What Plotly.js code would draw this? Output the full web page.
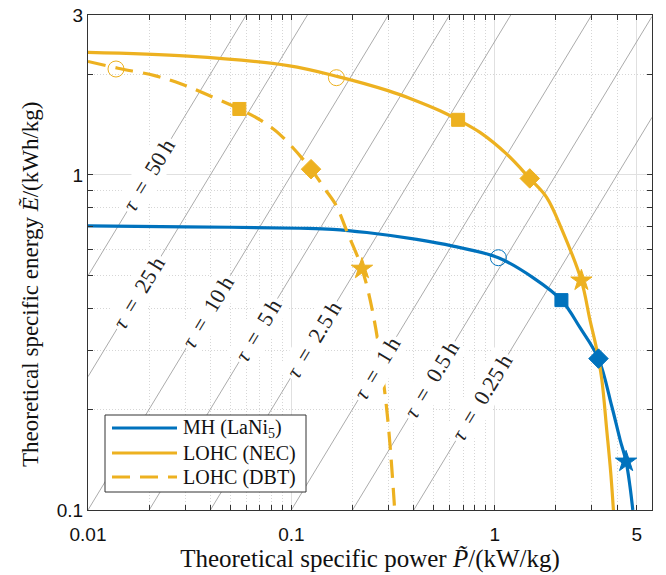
<!DOCTYPE html>
<html>
<head>
<meta charset="utf-8">
<script src="https://cdn.plot.ly/plotly-3.0.1.min.js"></script>
<style>html,body{margin:0;padding:0;background:#fff}#chart{width:666px;height:575px}</style>
</head>
<body>
<div id="chart"></div>
<script>
// ---- Data ----
// MH (LaNi5)
const mhP = [0.01, 0.03, 0.1103, 0.16, 0.235, 0.414, 0.6237, 1.043, 1.549, 2.13, 2.63, 3.24, 3.767, 4.14, 4.43, 4.63, 4.78];
const mhE = [0.704, 0.700, 0.693, 0.688, 0.673, 0.642, 0.613, 0.566, 0.493, 0.423, 0.350, 0.283, 0.204, 0.162, 0.1395, 0.1175, 0.1];
// LOHC (NEC)
const necP = [0.01, 0.03104, 0.0964, 0.1697, 0.2989, 0.398, 0.5386, 0.661, 0.847, 1.147, 1.488, 1.804, 2.138, 2.67, 2.94, 3.177, 3.365, 3.557, 3.724, 3.837];
const necE = [2.32, 2.261, 2.119, 1.965, 1.784, 1.677, 1.554, 1.46, 1.339, 1.153, 0.976, 0.856, 0.688, 0.484, 0.370, 0.301, 0.245, 0.1735, 0.1288, 0.1];
// LOHC (DBT)
const dbtP = [0.01, 0.01405, 0.02129, 0.02877, 0.03893, 0.0555, 0.0712, 0.0893, 0.125, 0.1465, 0.1666, 0.1873, 0.2225, 0.255, 0.2935, 0.32, 0.322];
const dbtE = [2.18, 2.081, 1.978, 1.867, 1.731, 1.573, 1.451, 1.308, 1.04, 0.906, 0.808, 0.680, 0.525, 0.372, 0.204, 0.107, 0.1];

// Marker points (open circle, square, diamond, star)
const mhMarkP = [1.043, 2.13, 3.24, 4.43];
const mhMarkE = [0.566, 0.423, 0.283, 0.1395];
const necMarkP = [0.1666, 0.661, 1.488, 2.67];
const necMarkE = [1.95, 1.46, 0.976, 0.484];
const dbtMarkP = [0.01373, 0.0555, 0.125, 0.2225];
const dbtMarkE = [2.07, 1.573, 1.04, 0.525];

// Discharge time lines tau = E/P (h) and label positions (P at label centre)
const tauVals = [50, 25, 10, 5, 2.5, 1, 0.5, 0.25];
const tauLabels = ['50', '25', '10', '5', '2.5', '1', '0.5', '0.25'];
const tauLabelP = [0.02, 0.0178, 0.039, 0.0686, 0.129, 0.264, 0.49, 0.865];

// Legend entries
const legendNames = ['MH (LaNi<sub>5</sub>)', 'LOHC (NEC)', 'LOHC (DBT)'];

// Axis ticks
const xTicks = [0.01, 0.1, 1, 5];
const xTickText = ['0.01', '0.1', '1', '5'];
const yTicks = [0.1, 1, 3];
const yTickText = ['0.1', '1', '3'];
const xMinor = [0.02,0.03,0.04,0.05,0.06,0.07,0.08,0.09,0.2,0.3,0.4,0.5,0.6,0.7,0.8,0.9,2,3,4];
const yMinor = [0.2,0.3,0.4,0.5,0.6,0.7,0.8,0.9,2];

const xMax = 5.94, xMin = 0.01, yMin = 0.1, yMax = 3;

// ---- Style ----
const BLUE = '#0072BD', ORANGE = '#EDB120';
const SERIF = 'Liberation Serif, Times New Roman, serif';
const SANS = 'Liberation Sans, Arial, sans-serif';
const DASH = '18px,10px';
const margin = {l: 88, r: 14, t: 15, b: 65};
const W = 666, H = 575;
const plotW = W - margin.l - margin.r, plotH = H - margin.t - margin.b;
const pxPerDecX = plotW / (Math.log10(xMax) - Math.log10(xMin));
const pxPerDecY = plotH / (Math.log10(yMax) - Math.log10(yMin));
const tauAngle = -Math.atan(pxPerDecY / pxPerDecX) * 180 / Math.PI;
const px2x = p => (p - margin.l) / plotW;
const px2y = p => (H - margin.b - p) / plotH;

const traces = [];
tauVals.forEach(t => {
  traces.push({
    x: [xMin, xMax], y: [t * xMin, t * xMax], mode: 'lines', showlegend: false,
    line: {color: 'rgb(150,150,150)', width: 0.8}, hoverinfo: 'skip'
  });
});

const seriesColors = [BLUE, ORANGE, ORANGE];
const seriesDash = ['solid', 'solid', DASH];
[[mhP, mhE], [necP, necE], [dbtP, dbtE]].forEach((s, i) => {
  traces.push({x: s[0], y: s[1], mode: 'lines', name: legendNames[i], showlegend: false,
    line: {color: seriesColors[i], width: 3.2, dash: seriesDash[i], shape: 'spline', smoothing: 1}});
});

const symbols = ['circle-open', 'square', 'diamond', 'star'];
const sizes = [16, 13, 15, 16];
function markTrace(px, py, color) {
  return {x: px, y: py, mode: 'markers', showlegend: false,
    marker: {symbol: symbols, size: sizes, color: color, opacity: 1, line: {color: color, width: 1}}};
}
traces.push(markTrace(mhMarkP, mhMarkE, BLUE));
traces.push(markTrace(necMarkP, necMarkE, ORANGE));
traces.push(markTrace(dbtMarkP, dbtMarkE, ORANGE));

const annotations = tauVals.map((t, i) => ({
  x: Math.log10(tauLabelP[i]), y: Math.log10(t * tauLabelP[i]), xref: 'x', yref: 'y',
  text: '<i>τ</i>\u2002=\u2002' + tauLabels[i] + '\u2009h', showarrow: false, textangle: tauAngle,
  bgcolor: 'white', borderpad: 2, font: {family: SERIF, size: 22, color: '#222'}
}));

// y axis title as a rotated annotation
annotations.push({xref: 'paper', yref: 'paper', x: px2x(30), y: px2y(284), xanchor: 'center', yanchor: 'middle',
  textangle: -90, showarrow: false, text: 'Theoretical specific energy <i>Ẽ</i>/(kWh/kg)',
  font: {family: SERIF, size: 23, color: '#111'}});

// custom legend (box, samples, labels)
const legBox = {x0: 105, x1: 306, y0: 415, y1: 492};
const legRows = [428, 453, 477];
const shapes = [{type: 'rect', xref: 'paper', yref: 'paper',
  x0: px2x(legBox.x0), x1: px2x(legBox.x1), y0: px2y(legBox.y1), y1: px2y(legBox.y0),
  fillcolor: 'white', line: {color: '#333', width: 1}, layer: 'above'}];
legRows.forEach((ry, i) => {
  shapes.push({type: 'line', xref: 'paper', yref: 'paper', x0: px2x(112), x1: px2x(177),
    y0: px2y(ry), y1: px2y(ry), line: {color: seriesColors[i], width: 3.2, dash: seriesDash[i]}, layer: 'above'});
  annotations.push({xref: 'paper', yref: 'paper', x: px2x(181), y: px2y(ry), xanchor: 'left', yanchor: 'middle',
    text: legendNames[i], showarrow: false, font: {family: SERIF, size: 20, color: '#111'}});
});

const axisCommon = {
  type: 'log', showline: true, linecolor: '#333', linewidth: 1, mirror: 'allticks',
  ticks: 'inside', ticklen: 5, tickwidth: 1, tickcolor: '#333',
  showgrid: true, gridcolor: 'rgb(224,224,224)', gridwidth: 1, zeroline: false,
  tickfont: {family: SANS, size: 19, color: '#111'}, tickmode: 'array'
};
const minorCommon = {tickmode: 'array', ticks: 'inside', ticklen: 5, tickcolor: '#333',
  showgrid: true, gridcolor: 'rgb(214,214,214)', griddash: '1px,2px', gridwidth: 1};

const layout = {
  width: W, height: H, margin: margin, paper_bgcolor: 'white', plot_bgcolor: 'white',
  showlegend: false,
  xaxis: Object.assign({}, axisCommon, {
    range: [Math.log10(xMin), Math.log10(xMax)], tickvals: xTicks, ticktext: xTickText,
    ticklabelstandoff: 7,
    minor: Object.assign({tickvals: xMinor}, minorCommon),
    title: {text: 'Theoretical specific power <i>P̃</i>/(kW/kg)', font: {family: SERIF, size: 25, color: '#111'}, standoff: 3}
  }),
  yaxis: Object.assign({}, axisCommon, {
    range: [Math.log10(yMin), Math.log10(yMax)], tickvals: yTicks, ticktext: yTickText,
    minor: Object.assign({tickvals: yMinor}, minorCommon)
  }),
  shapes: shapes,
  annotations: annotations
};

Plotly.newPlot('chart', traces, layout, {displayModeBar: false, staticPlot: true});
</script>
</body>
</html>
